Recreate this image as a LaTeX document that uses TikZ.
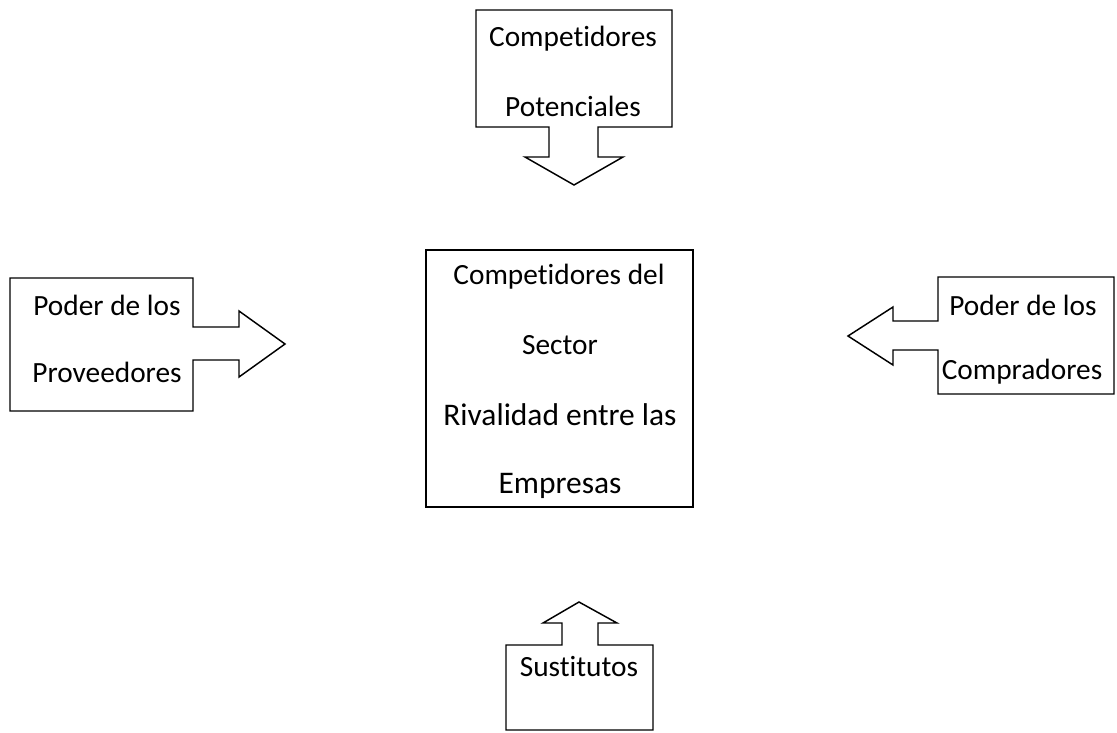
\documentclass[tikz,border=0pt]{standalone}
\usepackage{fontspec}
\setmainfont[RawFeature={-liga;-clig}]{Carlito}
\begin{document}
\begin{tikzpicture}[x=0.75pt,y=-0.75pt,
  shapeline/.style={draw=black,line width=1.1pt,line join=miter,fill=white},
  lbl/.style={inner sep=0pt,font=\fontsize{22}{26}\selectfont},
  lblbig/.style={inner sep=0pt,font=\fontsize{23.6}{28}\selectfont}]
\useasboundingbox (0,0) rectangle (1117,732);
% top callout
\draw[shapeline] (476,10) -- (672,10) -- (672,127) -- (598,127) -- (598,157) -- (623,157) -- (574,185) -- (525,157) -- (549,157) -- (549,127) -- (476,127) -- cycle;
% left callout
\draw[shapeline] (10,278) -- (193,278) -- (193,327) -- (239,327) -- (239,311) -- (285,344) -- (239,377) -- (239,360) -- (193,360) -- (193,411) -- (10,411) -- cycle;
% right callout
\draw[shapeline] (1114,277) -- (938,277) -- (938,321) -- (893,321) -- (893,307) -- (848,336) -- (893,365) -- (893,350) -- (938,350) -- (938,394) -- (1114,394) -- cycle;
% bottom callout
\draw[shapeline] (506,730) -- (506,645) -- (562,645) -- (562,623) -- (543,623) -- (579,602) -- (617,623) -- (598,623) -- (598,645) -- (653,645) -- (653,730) -- cycle;
% center box
\draw[shapeline] (426,250) rectangle (693,507);
% texts
\node[lbl] (t1) at (573,39) {Competidores};
\node[lbl] (t2) at (573,106) {Potenciales};
\node[lbl] (l1) at (107,305) {Poder de los};
\node[lbl] (l2) at (107,372) {Proveedores};
\node[lbl] (r1) at (1023,305) {Poder de los};
\node[lbl] (r2) at (1022,372) {Compradores};
\node[lbl] (b1) at (579,667) {Sustitutos};
\node[lbl] (c1) at (559,277) {Competidores del};
\node[lbl] (c2) at (560,345) {Sector};
\node[lblbig] (c3) at (560,415) {Rivalidad entre las};
\node[lblbig] (c4) at (560,486) {Empresas};
\end{tikzpicture}
\end{document}
